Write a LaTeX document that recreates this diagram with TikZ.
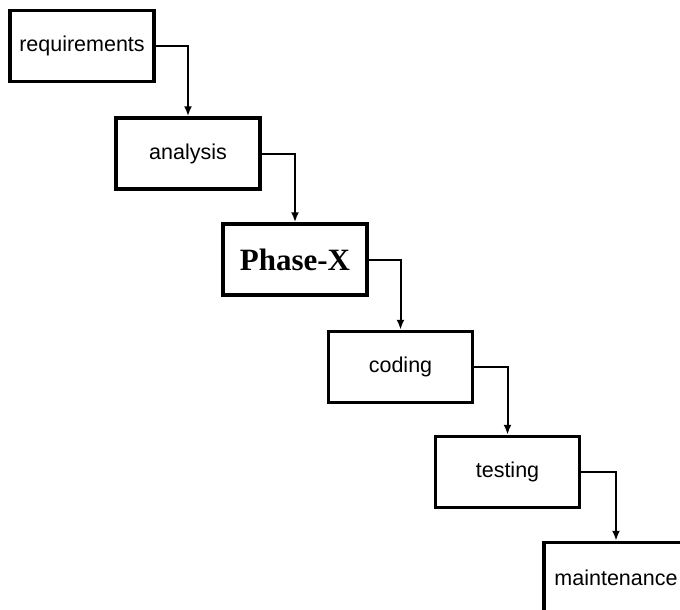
\documentclass[tikz,border=0pt]{standalone}
\usepackage{fontspec}
\setmainfont{Liberation Sans}
\newfontfamily\phasefont{Liberation Serif}
\usetikzlibrary{arrows.meta}

\begin{document}
\begin{tikzpicture}[x=1pt,y=-1pt]

% Just a workaround to fix the page size (the last box is cut off)
\fill[white] (0,0) rectangle (680,610);
\clip (0,0) rectangle (680,610);

% Boxes
\newcommand{\phasebox}[3]{
	\node[draw, line width=3.5pt, minimum width=144pt, minimum height=71pt,
		inner sep=0pt, font=\fontsize{21.5}{24}\selectfont]
		(#1) at (#2) {#3}
	;
}
\phasebox  {req}    {82,46}      {requirements}
\phasebox  {ana}    {188,153.5}  {analysis}
\phasebox  {phase}  {295,259.5}  {\phasefont\bfseries\fontsize{31}{34}\selectfont Phase-X}
\phasebox  {cod}    {400.5,367}  {coding}
\phasebox  {test}   {507.5,472}  {testing}
\phasebox  {maint}  {616,578}    {maintenance}

% Arrows
\newcommand{\flow}[2]{
	\draw[-{Latex[length=10pt,width=8pt]}, line width=2pt]
		(#1.east) -| (#2.north)
	;
}
\flow  {req}    {ana}
\flow  {ana}    {phase}
\flow  {phase}  {cod}
\flow  {cod}    {test}
\flow  {test}   {maint}
\end{tikzpicture}
\end{document}
